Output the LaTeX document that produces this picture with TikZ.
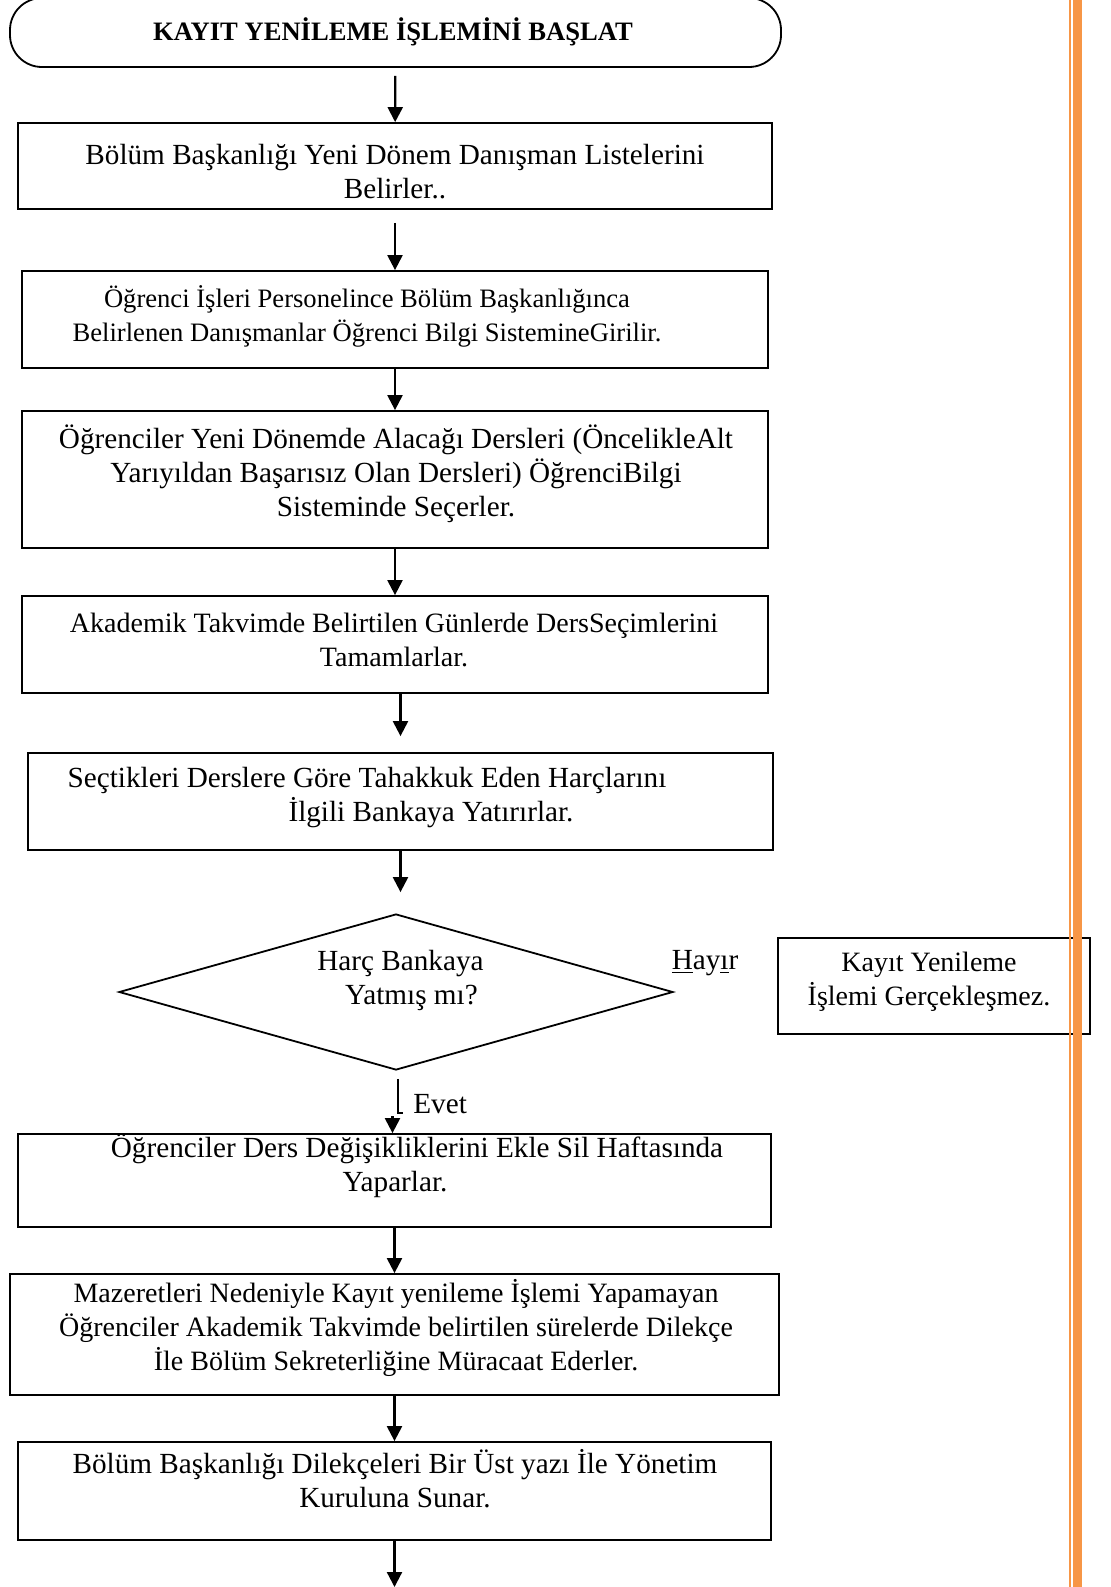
\documentclass[tikz,border=0pt]{standalone}
\usepackage{fontspec}
\setmainfont{Liberation Serif}
\usetikzlibrary{shapes.geometric,arrows.meta}
\definecolor{barorange}{RGB}{247,150,70}

\begin{document}
\begin{tikzpicture}[x=0.5pt, y=-0.5pt, >={Triangle[width=7.5pt,length=7.5pt]},
  stepbox/.style={draw, line width=0.9pt, inner sep=0pt},
  steptext/.style={align=center, inner sep=0pt, font=\fontsize{14.6}{17}\selectfont},
  smalltext/.style={steptext, font=\fontsize{14}{17}\selectfont},
  arr/.style={->, line width=1.1pt}]
  \useasboundingbox (0,0) rectangle (1110,1587);

  % start
  \node [stepbox, rounded corners=16pt, minimum width=0.5pt*771, minimum height=0.5pt*69] (start) at (395.5,32.5) {};
  \node [inner sep=0pt, font=\fontsize{13.3}{16}\selectfont\bfseries] (start-t) at (393,32) {KAYIT YENİLEME İŞLEMİNİ BAŞLAT};

  % draw step boxes
  \foreach \m/\x/\y/\w/\h in {1/395/166/754/86, 2/395/319.5/746/97, 3/395/479.5/746/137,
    4/395/644.5/746/97, 5/400.5/801.5/745/97, 6/394.5/1180.5/753/93,
    7/394.5/1334.5/769/121, 8/394.5/1491/753/98}
  \node [stepbox, minimum width=0.5pt*\w, minimum height=0.5pt*\h] (box-\m) at (\x,\y) {};

  % decision
  \node [stepbox, diamond, aspect=3.55, minimum width=0.5pt*554, minimum height=0.5pt*156] (dec) at (396,992) {};
  \node [stepbox, minimum width=0.5pt*312, minimum height=0.5pt*96] (refuse) at (934,986) {};

  % texts
  \node [steptext] (text-1) at (395,172) {Bölüm Başkanlığı Yeni Dönem Danışman Listelerini\\Belirler..};
  \node [steptext, font=\fontsize{13.3}{17}\selectfont] (text-2) at (367,316) {Öğrenci İşleri Personelince Bölüm Başkanlığınca\\Belirlenen Danışmanlar Öğrenci Bilgi SistemineGirilir.};
  \node [steptext] (text-3) at (396,474) {Öğrenciler Yeni Dönemde Alacağı Dersleri (ÖncelikleAlt\\Yarıyıldan Başarısız Olan Dersleri) ÖğrenciBilgi\\Sisteminde Seçerler.};
  \node [smalltext] (text-4) at (394,640) {Akademik Takvimde Belirtilen Günlerde DersSeçimlerini\\Tamamlarlar.};
  \node [steptext] (text-5) at (400,798) {Seçtikleri Derslere Göre Tahakkuk Eden Harçlarını\hspace*{33pt}\\\hspace*{31pt}İlgili Bankaya Yatırırlar.};
  \node [steptext] (dec-t) at (406,980) {Harç Bankaya\hspace*{5.5pt}\\\hspace*{5.5pt}Yatmış mı?};
  \node [steptext] (hayir) at (705,963) {\underline{H}ay\underline{ı}r};
  \node [smalltext] (refuse-t) at (929,982) {Kayıt Yenileme\\İşlemi Gerçekleşmez.};
  \node [steptext, anchor=west] (evet) at (413,1104) {Evet};
  \node [steptext] (text-6) at (406,1166) {\hspace*{11pt}Öğrenciler Ders Değişikliklerini Ekle Sil Haftasında\\Yaparlar.\hspace*{11pt}};
  \node [smalltext] (text-7) at (396,1328) {Mazeretleri Nedeniyle Kayıt yenileme İşlemi Yapamayan\\Öğrenciler Akademik Takvimde belirtilen sürelerde Dilekçe\\İle Bölüm Sekreterliğine Müracaat Ederler.};
  \node [steptext] (text-8) at (395,1479) {Bölüm Başkanlığı Dilekçeleri Bir Üst yazı İle Yönetim\\Kuruluna Sunar.};

  % arrows
  \draw [arr, shorten <=4pt] (start) -- (box-1);
  \draw [arr, shorten <=6.5pt] (box-1) -- (box-2);
  \foreach \a/\b in {2/3, 3/4, 6/7, 7/8}
  \draw [arr] (box-\a) -- (box-\b);
  \draw [arr, shorten >=8pt] (box-4.south -| box-5.north) -- (box-5.north);
  \draw [arr, shorten >=10.5pt] (box-5.south) -- (box-5.south |- dec.north);
  \draw [line width=1.1pt] ([xshift=1pt]dec.south) ++(0,8) -- ++(0,34) -- ++(5,0);
  \draw [arr] ([xshift=-1pt]box-6.north) ++(0,-17) -- ([xshift=-1pt]box-6.north);
  \coordinate (end) at (394.5,1587);
  \draw [arr] (box-8) -- (end);

  % side bars
  \fill [barorange] (1069,0) rectangle (1071,1587);
  \fill [barorange] (1073,0) rectangle (1082,1587);
\end{tikzpicture}
\end{document}
